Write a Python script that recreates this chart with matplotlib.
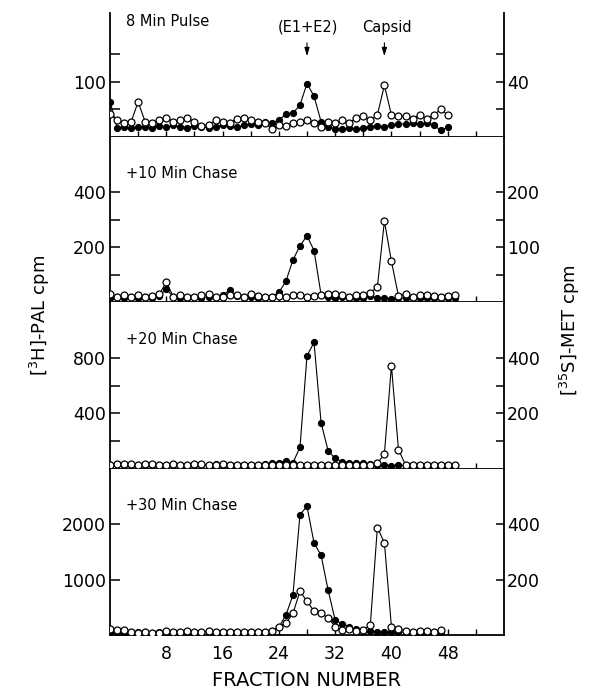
import matplotlib
matplotlib.use("Agg")
import matplotlib.pyplot as plt

# ---------------- data ----------------
# Panel 1: 8 Min Pulse
p1_frac = list(range(0, 49))
p1_pal = [64, 17, 18, 16, 19, 18, 17, 20, 18, 21, 19, 17, 20, 18, 17, 19, 22, 20, 18, 21,
          23, 22, 28, 26, 30, 42, 43, 58, 97, 74, 28, 18, 15, 14, 16, 14, 17, 19, 20, 19,
          22, 24, 23, 25, 24, 26, 22, 12, 18]
p1_met = [17, 12, 10, 11, 25.5, 11, 10, 12, 14, 11, 12, 14, 11, 8, 9, 12, 11, 10, 13, 14,
          12, 11, 10, 6, 9, 8, 10, 11, 12, 10, 7, 11, 10, 12, 10, 14, 15, 12, 16, 37.6,
          16, 15, 15, 13, 16, 13, 16, 20, 16]

# Panel 2: +10 Min Chase
p2_frac = list(range(0, 50))
p2_pal = [15, 18, 14, 20, 16, 18, 15, 22, 48, 18, 14, 16, 18, 15, 20, 17, 24, 43, 22, 16,
          18, 15, 17, 20, 35, 75, 153, 204, 241, 187, 27, 18, 15, 17, 14, 16, 15, 22, 16, 14,
          12, 15, 14, 13, 16, 15, 14, 16, 15, 14]
p2_met = [15, 9, 12, 10, 12, 10, 11, 14, 36, 10, 13, 9, 10, 12, 14, 10, 9, 12, 13, 10,
          14, 11, 10, 9, 11, 10, 13, 12, 10, 11, 13, 14, 15, 12, 10, 12, 13, 17, 27, 147,
          74, 11, 14, 10, 12, 13, 11, 10, 11, 12]

# Panel 3: +20 Min Chase
p3_frac = list(range(0, 50))
p3_pal = [28, 35, 30, 28, 32, 27, 30, 26, 29, 31, 27, 30, 28, 26, 30, 33, 29, 27, 30, 28,
          32, 30, 35, 40, 45, 60, 45, 155, 814, 909, 333, 131, 76, 52, 45, 40, 42, 35, 30, 28,
          25, 26, 24, 25, 22, 24, 23, 22, 24, 22]
p3_met = [16, 17, 18, 17, 16, 18, 17, 15, 16, 18, 15, 16, 18, 17, 15, 16, 17, 16, 15, 14,
          16, 15, 14, 15, 16, 13, 14, 15, 14, 13, 14, 15, 14, 15, 14, 15, 14, 16, 20, 54,
          371, 70, 15, 16, 15, 16, 15, 16, 15, 16]

# Panel 4: +30 Min Chase
p4_frac = list(range(0, 48))
p4_pal = [60, 50, 45, 55, 50, 60, 45, 55, 50, 60, 55, 50, 45, 60, 55, 50, 60, 55, 50, 45,
          55, 50, 60, 70, 139, 360, 720, 2175, 2324, 1663, 1441, 811, 270, 200, 150, 100, 80, 70, 60, 55,
          60, 50, 55, 50, 45, 55, 50, 50]
p4_met = [20, 18, 17, 10, 8, 12, 6, 8, 14, 12, 10, 14, 12, 10, 13, 12, 10, 11, 12, 10,
          11, 12, 10, 15, 30, 42, 78, 158, 122, 86, 78, 62, 30, 18, 20, 15, 18, 36, 388, 334,
          30, 22, 15, 12, 14, 16, 12, 18]

labels = ["8 Min Pulse", "+10 Min Chase", "+20 Min Chase", "+30 Min Chase"]

# axis settings per panel: (left ylim, left ticks, left labelled, right ylim, right ticks, right labelled)
left_lims = [225, 600, 1200, 3000]
left_ticks = [[50, 100, 150], [100, 200, 300, 400], [200, 400, 600, 800], [1000, 2000]]
left_lab = [[100], [200, 400], [400, 800], [1000, 2000]]
right_lims = [90, 300, 600, 600]
right_ticks = [[20, 40, 60], [50, 100, 150, 200], [100, 200, 300, 400], [200, 400]]
right_lab = [[40], [100, 200], [200, 400], [200, 400]]

xmaj = [8, 16, 24, 32, 40, 48]
xmin = [4, 12, 20, 28, 36, 44, 52]

panels = [(p1_frac, p1_pal, p1_met), (p2_frac, p2_pal, p2_met),
          (p3_frac, p3_pal, p3_met), (p4_frac, p4_pal, p4_met)]

# ---------------- layout ----------------
W, H = 589, 690
fig = plt.figure(figsize=(W / 100, H / 100), dpi=100)
left_px, right_px = 110, 504
bounds = [(13, 137), (137, 302), (302, 469), (469, 635)]

FS_TICK = 12.5
FS_TXT = 10.5
lw_sp = 1.3

for i, ((fr, pal, met), (top, bot)) in enumerate(zip(panels, bounds)):
    ax = fig.add_axes([left_px / W, 1 - bot / H, (right_px - left_px) / W, (bot - top) / H])
    ax2 = ax.twinx()
    ax.set_xlim(0, 56)
    ax.set_ylim(0, left_lims[i])
    ax2.set_ylim(0, right_lims[i])

    ax.plot(fr, pal, '-o', color='black', lw=0.8, ms=4.2, mfc='black', mec='black', zorder=3)
    ax2.plot(fr, met, '-o', color='black', lw=0.8, ms=5.0, mfc='white', mec='black', mew=0.9, zorder=4)

    for a in (ax, ax2):
        a.spines['top'].set_visible(False)
        for s in ('left', 'right', 'bottom'):
            a.spines[s].set_linewidth(lw_sp)
    ax.spines['right'].set_visible(False)
    ax2.spines['left'].set_visible(False)
    ax2.spines['bottom'].set_visible(False)

    ax.set_yticks(left_ticks[i])
    ax.set_yticklabels([str(t) if t in left_lab[i] else '' for t in left_ticks[i]])
    ax2.set_yticks(right_ticks[i])
    ax2.set_yticklabels([str(t) if t in right_lab[i] else '' for t in right_ticks[i]])
    ax.tick_params(axis='y', direction='in', length=7, width=1.1, labelsize=FS_TICK, pad=3)
    ax2.tick_params(axis='y', direction='in', length=6, width=1.1, labelsize=FS_TICK, pad=2)

    ax.set_xticks(xmaj)
    ax.set_xticks(xmin, minor=True)
    ax.tick_params(axis='x', which='both', direction='in', length=4, width=1.0,
                   labelsize=FS_TICK, pad=7)
    if i < 3:
        ax.tick_params(axis='x', which='both', labelbottom=False)

    ax.text(126 / W * 0 + (126 - left_px) / (right_px - left_px),
            [0.93, 0.78, 0.778, 0.783][i], labels[i],
            transform=ax.transAxes, ha='left', va='center', fontsize=FS_TXT)

    if i == 0:
        ax.text(28.2, 0.887, "(E1+E2)", transform=ax.get_xaxis_transform(),
                ha='center', va='center', fontsize=FS_TXT)
        ax.text(39.3, 0.887, "Capsid", transform=ax.get_xaxis_transform(),
                ha='center', va='center', fontsize=FS_TXT)
        for xa in (28, 39):
            ax.annotate('', xy=(xa, 0.629), xytext=(xa, 0.782),
                        xycoords=ax.get_xaxis_transform(),
                        textcoords=ax.get_xaxis_transform(),
                        arrowprops=dict(arrowstyle='-|>,head_length=0.5,head_width=0.15',
                                        lw=0.8, color='black'))

fig.text((left_px + right_px) / 2 / W, 1 - 680 / H, "FRACTION NUMBER",
         ha='center', va='center', fontsize=14)
fig.text(40 / W, 1 - 315 / H, "[$^3$H]-PAL cpm", rotation=90,
         ha='center', va='center', fontsize=13)
fig.text(570 / W, 1 - 330 / H, "[$^{35}$S]-MET cpm", rotation=90,
         ha='center', va='center', fontsize=13)

fig.savefig("out.png", dpi=100)
